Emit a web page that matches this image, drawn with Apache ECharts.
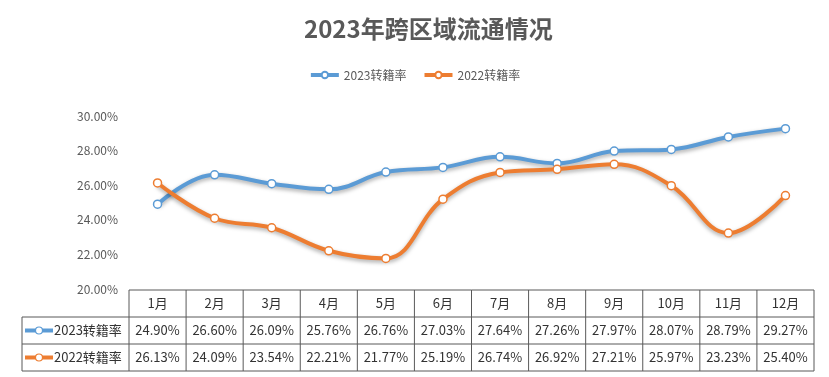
<!DOCTYPE html>
<html>
<head>
<meta charset="utf-8">
<script src="https://cdn.jsdelivr.net/npm/echarts@6/dist/echarts.min.js"></script>
<style>
  html, body { margin: 0; padding: 0; background: #fff; }
  #chart { width: 829px; height: 377px; }
</style>
</head>
<body>
<div id="chart"></div>
<script>
const months = ['1月', '2月', '3月', '4月', '5月', '6月', '7月', '8月', '9月', '10月', '11月', '12月'];
const rate2023 = [24.90, 26.60, 26.09, 25.76, 26.76, 27.03, 27.64, 27.26, 27.97, 28.07, 28.79, 29.27];
const rate2022 = [26.13, 24.09, 23.54, 22.21, 21.77, 25.19, 26.74, 26.92, 27.21, 25.97, 23.23, 25.40];
const seriesNames = ['2023转籍率', '2022转籍率'];
const colors = ['#5B9BD5', '#ED7D31'];

const font = '"Noto Sans CJK SC", "Microsoft YaHei", sans-serif';
const myChart = echarts.init(document.getElementById('chart'));

const makeSeries = (name, data, color) => ({
    name: name,
    type: 'line',
    smooth: 0.4,
    data: data,
    symbol: 'circle',
    symbolSize: 8,
    lineStyle: {
        width: 4,
        color: color,
        shadowColor: 'rgba(0,0,0,0.35)',
        shadowBlur: 4,
        shadowOffsetY: 2
    },
    itemStyle: {
        color: '#fff',
        borderColor: color,
        borderWidth: 1.5
    }
});

const option = {
    animation: false,
    textStyle: { fontFamily: font },
    title: {
        text: '2023年跨区域流通情况',
        left: 299,
        top: 12,
        textStyle: { fontSize: 24, fontWeight: 'bold', color: '#595959', fontFamily: font }
    },
    legend: {
        top: 64,
        left: 'center',
        itemWidth: 28,
        itemHeight: 8,
        itemGap: 16,
        lineStyle: { width: 4, shadowBlur: 0 },
        textStyle: { fontSize: 12, color: '#595959', fontFamily: font },
        data: seriesNames
    },
    grid: {
        left: 129,
        right: 15,
        top: 116,
        bottom: 88
    },
    xAxis: {
        type: 'category',
        data: months,
        boundaryGap: true,
        axisLine: { show: false },
        axisTick: { show: false },
        axisLabel: { show: false }
    },
    yAxis: {
        type: 'value',
        min: 20,
        max: 30,
        interval: 2,
        axisLine: { show: false },
        axisTick: { show: false },
        splitLine: { show: false },
        axisLabel: {
            margin: 11,
            fontSize: 12,
            color: '#595959',
            formatter: v => v.toFixed(2) + '%'
        }
    },
    series: [
        makeSeries(seriesNames[0], rate2023, colors[0]),
        makeSeries(seriesNames[1], rate2022, colors[1])
    ]
};

myChart.setOption(option);

// data table under the plot
const buildTable = () => {
    const x0 = myChart.convertToPixel({ xAxisIndex: 0 }, 0);
    const x1 = myChart.convertToPixel({ xAxisIndex: 0 }, 1);
    const colW = x1 - x0;
    const gridLeft = x0 - colW / 2;
    const gridRight = gridLeft + colW * months.length;
    const top = myChart.convertToPixel({ yAxisIndex: 0 }, 20) + 1;
    const rowH = 27;
    const labelLeft = 22;
    const border = '#595959';
    const els = [];

    const line = (xa, ya, xb, yb) => els.push({
        type: 'line',
        shape: { x1: xa, y1: ya, x2: xb, y2: yb },
        style: { stroke: border, lineWidth: 1 },
        silent: true
    });

    // horizontal lines
    line(gridLeft, top, gridRight, top);
    line(labelLeft, top + rowH, gridRight, top + rowH);
    line(labelLeft, top + rowH * 2, gridRight, top + rowH * 2);
    line(labelLeft, top + rowH * 3, gridRight, top + rowH * 3);
    // vertical lines
    line(labelLeft, top + rowH, labelLeft, top + rowH * 3);
    for (let i = 0; i <= months.length; i++) {
        const x = gridLeft + i * colW;
        line(x, top, x, top + rowH * 3);
    }

    months.forEach((m, i) => {
        els.push({
            type: 'text',
            x: gridLeft + (i + 0.5) * colW,
            y: top + rowH / 2,
            style: { text: m, fontSize: 13, fill: '#333', align: 'center', verticalAlign: 'middle', fontFamily: font },
            silent: true
        });
    });

    [rate2023, rate2022].forEach((vals, r) => {
        const cy = top + rowH * (r + 1.5);
        els.push({
            type: 'line',
            shape: { x1: labelLeft + 3, y1: cy, x2: labelLeft + 31, y2: cy },
            style: { stroke: colors[r], lineWidth: 4 },
            silent: true
        });
        els.push({
            type: 'circle',
            shape: { cx: labelLeft + 17, cy: cy, r: 3.5 },
            style: { fill: '#fff', stroke: colors[r], lineWidth: 1.2 },
            silent: true
        });
        els.push({
            type: 'text',
            x: labelLeft + 32,
            y: cy,
            style: { text: seriesNames[r], fontSize: 13, fill: '#333', align: 'left', verticalAlign: 'middle', fontFamily: font },
            silent: true
        });
        vals.forEach((v, i) => {
            els.push({
                type: 'text',
                x: gridLeft + (i + 0.5) * colW,
                y: cy,
                style: { text: v.toFixed(2) + '%', fontSize: 13, fill: '#333', align: 'center', verticalAlign: 'middle', fontFamily: font },
                silent: true
            });
        });
    });

    myChart.setOption({ graphic: { elements: els } });
};

buildTable();
window.addEventListener('resize', () => {
    myChart.resize();
    buildTable();
});
</script>
</body>
</html>
